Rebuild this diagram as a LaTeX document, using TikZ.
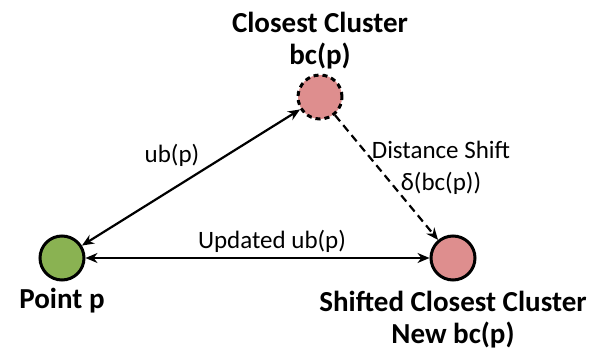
\documentclass[tikz,border=0pt]{standalone}
\usepackage{fontspec}
\setmainfont{Carlito}
\definecolor{ptgreen}{RGB}{138,178,82}
\definecolor{clpink}{RGB}{222,142,142}
\usetikzlibrary{arrows.meta,positioning}

\begin{document}
\begin{tikzpicture}[x=1pt, y=-1pt,
    dot/.style={circle, minimum size=44pt, inner sep=0pt, draw=black, line width=3pt},
    biglabel/.style={font=\fontsize{29}{32}\selectfont\bfseries, align=center},
    smalllabel/.style={font=\fontsize{25}{32}\selectfont, align=center},
    arr/.style={{Stealth[length=12pt,width=10pt]}-{Stealth[length=12pt,width=10pt]}, line width=2.2pt}
  ]
    \useasboundingbox (0,0) rectangle (592,352);

    % Nodes
    \node[dot, fill=ptgreen] (pointp) at (62,258) {};
    \node[dot, fill=clpink, dashed, dash pattern=on 5pt off 4pt] (closest) at (320,97) {};
    \node[dot, fill=clpink] (shifted) at (453,258) {};

    % Titles
    \node[biglabel] (closesttxt) at (320,41) {Closest Cluster\\bc(p)};
    \node[biglabel] (pointtxt) at (62,301) {Point p};
    \node[biglabel] (shiftedtxt) at (453,320) {Shifted Closest Cluster\\New bc(p)};

    % Connectors
    \draw[arr] (pointp) -- (closest);
    \draw[arr] (pointp) -- (shifted);
    \draw[-{Stealth[length=12pt,width=10pt]}, line width=2.2pt, dashed, dash pattern=on 8pt off 5pt] (closest) -- (shifted);

    % Edge labels
    \node[smalllabel] (ubtxt) at (172,155) {ub(p)};
    \node[smalllabel] (updtxt) at (272,241) {Updated ub(p)};
    \node[smalllabel] (shifttxt) at (441,168) {Distance Shift\\δ(bc(p))};
  \end{tikzpicture}
\end{document}
